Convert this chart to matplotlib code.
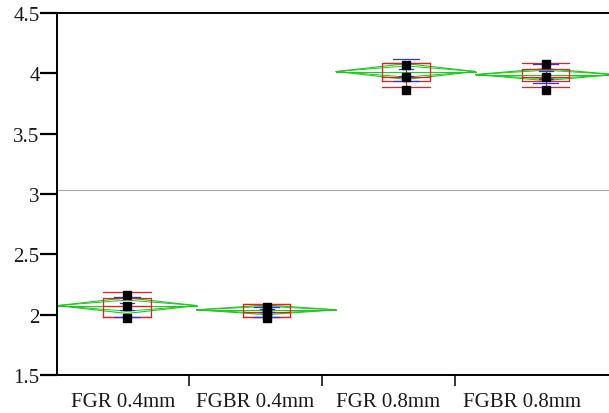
import numpy as np
import matplotlib as mpl
mpl.use('Agg')
import matplotlib.pyplot as plt

plt.rcParams['font.family'] = ['Liberation Serif', 'DejaVu Serif']

groups = ["FGR 0.4mm", "FGBR 0.4mm", "FGR 0.8mm", "FGBR 0.8mm"]
points = [[2.16, 2.07, 1.97], [2.06, 2.02, 1.97], [4.07, 3.97, 3.865], [4.075, 3.97, 3.865]]
box_lo = [1.98, 1.98, 3.94, 3.94]
box_hi = [2.14, 2.085, 4.085, 4.035]
medians = [2.07, 2.02, 3.97, 3.97]
whisk_lo = [1.98, 1.98, 3.885, 3.89]
whisk_hi = [2.185, 2.085, 4.085, 4.085]
means = [2.075, 2.04, 4.015, 3.99]
ci = [0.065, 0.04, 0.065, 0.05]
blue_outer = [[2.15, 1.98], [2.06, 1.98], [4.12, 3.94], [4.08, 3.92]]
blue_inner = [[2.10, 2.04], [2.05, 2.02], [4.04, 3.98], [4.02, 3.95]]
grand_mean = 3.03

red = "#ee1c1c"
green = "#20c820"
blue = "#3030f0"

fig = plt.figure(figsize=(6.09, 4.14), dpi=100)
ax = fig.add_axes([57/609, 1 - 376/414, 1 - 57/609, (376 - 14)/414])

ax.axhline(grand_mean, color="#a8a8a8", lw=0.8, zorder=1)

for i in range(len(groups)):
    m, c = means[i], ci[i]
    # means diamond + overlap marks
    ax.plot([i - 0.5, i, i + 0.5, i, i - 0.5], [m, m + c, m, m - c, m], color=green, lw=0.8, zorder=2)
    c2 = c / np.sqrt(2)
    ax.plot([i - 0.5, i, i + 0.5, i, i - 0.5], [m, m + c2, m, m - c2, m], color=green, lw=0.7, zorder=2)
    ax.plot([i - 0.5, i + 0.5], [m, m], color=green, lw=0.8, zorder=2)
    # box plot
    bw = 0.17
    ax.plot([i - bw, i + bw, i + bw, i - bw, i - bw], [box_lo[i], box_lo[i], box_hi[i], box_hi[i], box_lo[i]],
            color=red, lw=0.9, zorder=3)
    ax.plot([i - bw, i + bw], [medians[i], medians[i]], color=red, lw=0.9, zorder=3)
    ax.plot([i, i], [whisk_lo[i], box_lo[i]], color=red, lw=0.9, zorder=3)
    ax.plot([i, i], [box_hi[i], whisk_hi[i]], color=red, lw=0.9, zorder=3)
    ax.plot([i - bw, i + bw], [whisk_lo[i], whisk_lo[i]], color=red, lw=0.9, zorder=3)
    ax.plot([i - bw, i + bw], [whisk_hi[i], whisk_hi[i]], color=red, lw=0.9, zorder=3)
    # blue error bars
    for y in blue_outer[i]:
        ax.plot([i - 0.09, i + 0.09], [y, y], color=blue, lw=0.9, zorder=4)
    for y in blue_inner[i]:
        ax.plot([i - 0.05, i + 0.05], [y, y], color=blue, lw=0.9, zorder=4)
    ax.plot([i, i], blue_inner[i], color=blue, lw=0.8, zorder=4)
    # data points
    ax.plot([i] * len(points[i]), points[i], 's', color='black', ms=5.2, zorder=5)

ax.set_xlim(-0.502, 3.455)
ax.set_ylim(1.5, 4.5)
ax.set_yticks([1.5, 2, 2.5, 3, 3.5, 4, 4.5])
ax.set_yticklabels(["1.5", "2", "2.5", "3", "3.5", "4", "4.5"])

seps = [0.444, 1.398, 2.351]
ax.set_xticks(seps)
ax.set_xticklabels([])
centers = [-0.03, 0.921, 1.874, 2.828]
ax.set_xticks(centers, minor=True)
ax.set_xticklabels(groups, minor=True)
ax.tick_params(axis='x', which='minor', length=0, pad=12.5, labelsize=15, labelcolor='#1a1a1a')
ax.tick_params(axis='x', which='major', length=8, width=1.1, direction='out')
ax.tick_params(axis='y', length=12, width=1.6, direction='out', pad=0.5, labelsize=15, labelcolor='#1a1a1a')

for s in ['left', 'top', 'bottom']:
    ax.spines[s].set_linewidth(1.4)
ax.spines['right'].set_visible(False)

fig.savefig("out.png", dpi=100)
